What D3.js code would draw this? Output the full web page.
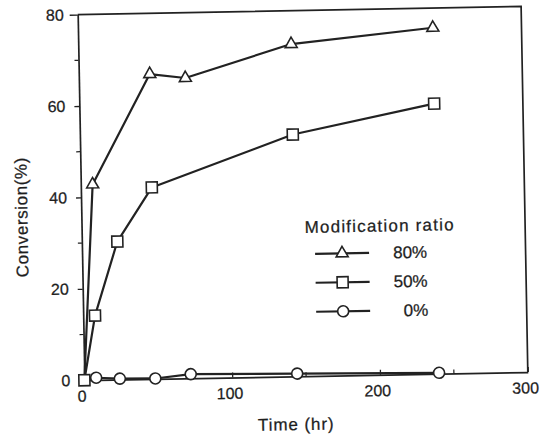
<!DOCTYPE html>
<html>
<head>
<meta charset="utf-8">
<script src="https://cdn.jsdelivr.net/npm/d3@7"></script>
<style>
  body { margin: 0; background: #fff; }
  svg { display: block; }
  text { font-family: "Liberation Sans", Arial, sans-serif; fill: #1e1e1e; stroke: #1e1e1e; stroke-width: 0.25px; }
</style>
</head>
<body>
<svg id="canvas" width="540" height="434"></svg>
<script>
// data
var t80 = [0, 8, 48, 72, 144, 240];
var c80 = [0, 42.8, 66.7, 65.7, 72.7, 75.7];
var t50 = [0, 8, 24, 48, 144, 240];
var c50 = [0, 14.1, 30.2, 41.9, 52.9, 59.1];
var t0 = [0, 8, 24, 48, 72, 144, 240];
var c0 = [0, 0.5, 0.2, 0.1, 0.9, 0.6, 0.2];

var seriesNames = ['80%', '50%', '0%'];
var xTicks = [0, 100, 200, 300];
var xMinor = [50, 150, 250];
var yTicks = [0, 20, 40, 60, 80];
var yMinor = [10, 30, 50, 70];
var legendTitle = 'Modification ratio';
var xTitle = 'Time (hr)';
var yTitle = 'Conversion(%)';

var ink = '#222';
var plot = { left: 81, right: 524.5, top: 10.5, bottom: 376.2 };

var svg = d3.select('#canvas');
// the scan is tilted by about a degree
var root = svg.append('g').attr('transform', 'rotate(-1.05,302.5,193.5)');

var xScale = d3.scaleLinear().domain([0, 300]).range([plot.left, plot.right]);
var yScale = d3.scaleLinear().domain([0, 80]).range([plot.bottom, plot.top]);

// ************************************************************************************** //
// Axes

var xAxis = root.append('g').attr('transform', 'translate(0,' + plot.bottom + ')')
  .call(d3.axisBottom(xScale).tickValues(xTicks).tickSize(-5).tickPadding(10).tickSizeOuter(0));
var yAxis = root.append('g').attr('transform', 'translate(' + plot.left + ',0)')
  .call(d3.axisLeft(yScale).tickValues(yTicks).tickSize(5).tickPadding(9).tickSizeOuter(0));

[xAxis, yAxis].forEach(function(ax) {
  ax.select('.domain').attr('stroke', ink).attr('stroke-width', 1.7);
  ax.selectAll('.tick line').attr('stroke', ink).attr('stroke-width', 1.3);
  ax.selectAll('.tick text').style('font-size', '16px').attr('fill', ink);
});
xAxis.selectAll('.tick text').attr('dx', -3);
// top tick of y axis runs into the frame line
yAxis.selectAll('.tick').filter(function(d) { return d === 80; }).select('line').attr('x2', -8);

root.append('g').selectAll('line').data(xMinor).join('line')
  .attr('x1', function(d) { return xScale(d); }).attr('x2', function(d) { return xScale(d); })
  .attr('y1', plot.bottom).attr('y2', plot.bottom - 4)
  .attr('stroke', ink).attr('stroke-width', 1.2);
root.append('g').selectAll('line').data(yMinor).join('line')
  .attr('x1', plot.left).attr('x2', plot.left - 4)
  .attr('y1', function(d) { return yScale(d); }).attr('y2', function(d) { return yScale(d); })
  .attr('stroke', ink).attr('stroke-width', 1.2);

// frame: top and right
root.append('path')
  .attr('d', 'M' + xScale(0) + ',' + yScale(80) + 'H' + xScale(300) + 'V' + yScale(0))
  .attr('fill', 'none').attr('stroke', ink).attr('stroke-width', 1.7);

root.append('text').attr('x', 292).attr('y', 430).attr('text-anchor', 'middle')
  .style('font-size', '17px').style('letter-spacing', '0.9px').text(xTitle);
root.append('text').attr('transform', 'translate(27,212) rotate(-90)').attr('text-anchor', 'middle')
  .style('font-size', '17px').style('letter-spacing', '0.6px').text(yTitle);

// ************************************************************************************** //
// Series

var lineGen = d3.line().x(function(d) { return xScale(d.t); }).y(function(d) { return yScale(d.v); });
function pts(ts, vs) { return ts.map(function(t, i) { return { t: t, v: vs[i] }; }); }

var series = [
  { name: seriesNames[2], data: pts(t0, c0), symbol: d3.symbolCircle, size: 95 },
  { name: seriesNames[0], data: pts(t80, c80), symbol: d3.symbolTriangle, size: 62 },
  { name: seriesNames[1], data: pts(t50, c50), symbol: d3.symbolSquare, size: 121 }
];

series.forEach(function(s) {
  root.append('path').attr('d', lineGen(s.data))
    .attr('fill', 'none').attr('stroke', ink).attr('stroke-width', 2.2).attr('stroke-linejoin', 'round');
});
series.forEach(function(s) {
  var marks = s.symbol === d3.symbolSquare ? s.data : s.data.filter(function(d) { return d.t > 0; });
  root.append('g').selectAll('path').data(marks).join('path')
    .attr('d', d3.symbol().type(s.symbol).size(s.size))
    .attr('transform', function(d) { return 'translate(' + xScale(d.t) + ',' + yScale(d.v) + ')'; })
    .attr('fill', '#fff').attr('stroke', ink).attr('stroke-width', 1.6);
});

// ************************************************************************************** //
// Legend

var legend = root.append('g');
legend.append('text').attr('x', 304).attr('y', 233).style('font-size', '17px').style('letter-spacing', '1.2px').text(legendTitle);
var legendOrder = [series[1], series[2], series[0]];
legendOrder.forEach(function(s, i) {
  var y = 254 + i * 29;
  legend.append('line').attr('x1', 314).attr('x2', 368).attr('y1', y).attr('y2', y)
    .attr('stroke', ink).attr('stroke-width', 2.2);
  legend.append('path').attr('d', d3.symbol().type(s.symbol).size(s.size))
    .attr('transform', 'translate(341,' + y + ')')
    .attr('fill', '#fff').attr('stroke', ink).attr('stroke-width', 1.6);
  legend.append('text').attr('x', 426).attr('y', y + 6).attr('text-anchor', 'end')
    .style('font-size', '17px').text(s.name);
});
</script>
</body>
</html>
